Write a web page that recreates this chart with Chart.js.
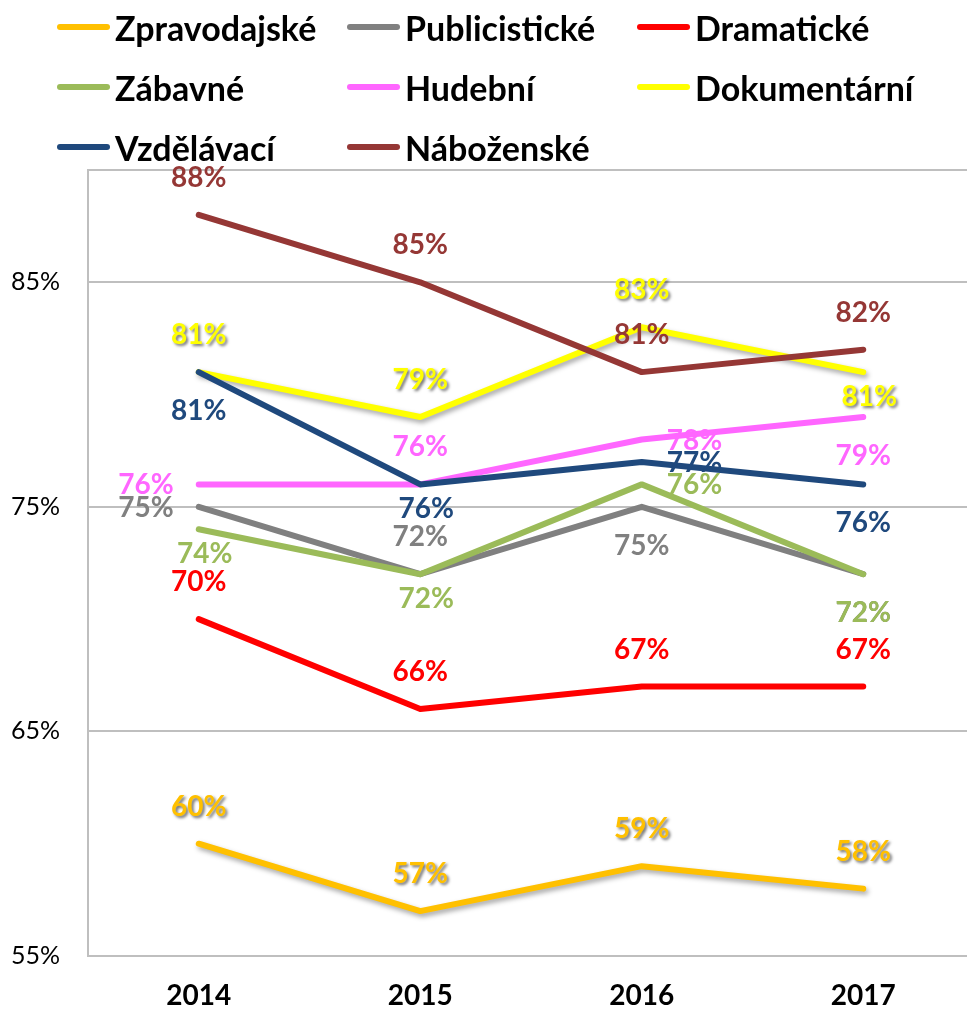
<!DOCTYPE html>
<html><head><meta charset="utf-8">
<script src="https://cdn.jsdelivr.net/npm/chart.js@4/dist/chart.umd.min.js"></script>
<style>
html,body{margin:0;padding:0;background:#fff;overflow:hidden;width:967px;height:1010px;}
#wrap{position:relative;width:967px;height:1010px;overflow:hidden;}
#c{position:absolute;left:0;top:0;}
#legend{position:absolute;left:57px;top:-3px;display:grid;grid-template-columns:290px 290px 290px;grid-auto-rows:60px;font-family:Lato,'Liberation Sans',sans-serif;font-weight:bold;font-size:34px;color:#000;}
.item{display:flex;align-items:center;height:60px;white-space:nowrap;}
.sw{width:53px;height:6px;border-radius:3px;margin-right:5px;flex:none;}
</style></head>
<body>
<div id="wrap">
<canvas id="c" width="974" height="1010"></canvas>
<div id="legend"></div>
</div>
<script>
// ---- data ----
const categories = ['2014', '2015', '2016', '2017'];
const seriesNames = ['Zpravodajské', 'Publicistické', 'Dramatické', 'Zábavné', 'Hudební', 'Dokumentární', 'Vzdělávací', 'Náboženské'];
const zpravodajske = [60, 57, 59, 58];
const publicisticke = [75, 72, 75, 72];
const dramaticke = [70, 66, 67, 67];
const zabavne = [74, 72, 76, 72];
const hudebni = [76, 76, 78, 79];
const dokumentarni = [81, 79, 83, 81];
const vzdelavaci = [81, 76, 77, 76];
const nabozenske = [88, 85, 81, 82];
const yTickValues = [55, 65, 75, 85];
const yMin = 55, yMax = 90;

// ---- styles ----
const seriesValues = [zpravodajske, publicisticke, dramaticke, zabavne, hudebni, dokumentarni, vzdelavaci, nabozenske];
const seriesColors = ['#FFC000', '#808080', '#FF0000', '#9BBB59', '#FF66FF', '#FFFF00', '#1F497D', '#953735'];
const seriesShadow = [true, false, false, false, false, true, false, false];
// label placement per point: a=above, b=below, bn=below (near), l=left, r=right
const labelPlacement = [
  ['a', 'a', 'a', 'a'],
  ['l', 'a', 'b', 'b'],
  ['a', 'a', 'a', 'a'],
  ['bn', 'bn', 'r', 'b'],
  ['l', 'a', 'r', 'b'],
  ['a', 'a', 'a', 'bn'],
  ['b', 'bn', 'r', 'b'],
  ['a', 'a', 'a', 'a']
];

const FONT = "Lato, 'Liberation Sans', sans-serif";

// legend (HTML)
const leg = document.getElementById('legend');
seriesNames.forEach((n, i) => {
  const it = document.createElement('div'); it.className = 'item';
  const sw = document.createElement('span'); sw.className = 'sw'; sw.style.background = seriesColors[i];
  const tx = document.createElement('span'); tx.textContent = n;
  it.appendChild(sw); it.appendChild(tx); leg.appendChild(it);
});

const shadowPlugin = {
  id: 'lineShadow',
  beforeDatasetDraw(chart, args) {
    const ds = chart.data.datasets[args.index];
    const ctx = chart.ctx;
    ctx.save();
    if (ds._shadow) {
      ctx.shadowColor = 'rgba(0,0,0,0.35)';
      ctx.shadowBlur = 5;
      ctx.shadowOffsetX = 2;
      ctx.shadowOffsetY = 3;
    }
  },
  afterDatasetDraw(chart) { chart.ctx.restore(); }
};

const labelPlugin = {
  id: 'valueLabels',
  afterDatasetsDraw(chart) {
    const ctx = chart.ctx;
    ctx.save();
    ctx.font = 'bold 28px ' + FONT;
    ctx.textBaseline = 'middle';
    chart.data.datasets.forEach((ds, i) => {
      const meta = chart.getDatasetMeta(i);
      meta.data.forEach((pt, j) => {
        const pos = labelPlacement[i][j];
        let x = pt.x, y = pt.y, align = 'center';
        if (pos === 'a') { y -= 37; }
        else if (pos === 'b') { y += 39; }
        else if (pos === 'bn') { y += 25; x += 6; }
        else if (pos === 'l') { x -= 25; align = 'right'; y += 1; }
        else if (pos === 'r') { x += 25; align = 'left'; y += 1; }
        ctx.textAlign = align;
        if (ds._shadow) {
          ctx.shadowColor = 'rgba(0,0,0,0.55)';
          ctx.shadowBlur = 3; ctx.shadowOffsetX = 2; ctx.shadowOffsetY = 2;
        } else {
          ctx.shadowColor = 'rgba(0,0,0,0)'; ctx.shadowBlur = 0; ctx.shadowOffsetX = 0; ctx.shadowOffsetY = 0;
        }
        ctx.fillStyle = ds.borderColor;
        ctx.fillText(ds.data[j] + '%', x, y);
      });
    });
    ctx.restore();
  }
};

new Chart(document.getElementById('c'), {
  type: 'line',
  data: {
    labels: categories,
    datasets: seriesNames.map((n, i) => ({
      label: n,
      data: seriesValues[i],
      borderColor: seriesColors[i],
      backgroundColor: seriesColors[i],
      borderWidth: 6,
      pointRadius: 0,
      tension: 0,
      borderCapStyle: 'round',
      borderJoinStyle: 'round',
      order: -i,
      _shadow: seriesShadow[i]
    }))
  },
  options: {
    responsive: false,
    animation: false,
    layout: { padding: { top: 170, left: 0, right: 0, bottom: 0 } },
    plugins: { legend: { display: false }, tooltip: { enabled: false } },
    scales: {
      x: {
        offset: true,
        grid: { display: false, drawTicks: false },
        border: { color: '#BFBFBF', width: 2 },
        ticks: { color: '#000', font: { family: FONT, size: 28, weight: 'bold' }, padding: 23, maxRotation: 0 },
        afterFit(s) { s.height = 54; }
      },
      y: {
        min: yMin, max: yMax,
        afterBuildTicks(s) { s.ticks = yTickValues.concat([yMax]).map(v => ({ value: v })); },
        grid: { color: '#BFBFBF', lineWidth: 2, drawTicks: false },
        border: { color: '#BFBFBF', width: 2 },
        ticks: {
          color: '#000', font: { family: FONT, size: 25 }, padding: 28,
          callback: v => (yTickValues.includes(v) ? v + '%' : '')
        },
        afterFit(s) { s.width = 88; }
      }
    }
  },
  plugins: [shadowPlugin, labelPlugin]
});
</script>
</body></html>
